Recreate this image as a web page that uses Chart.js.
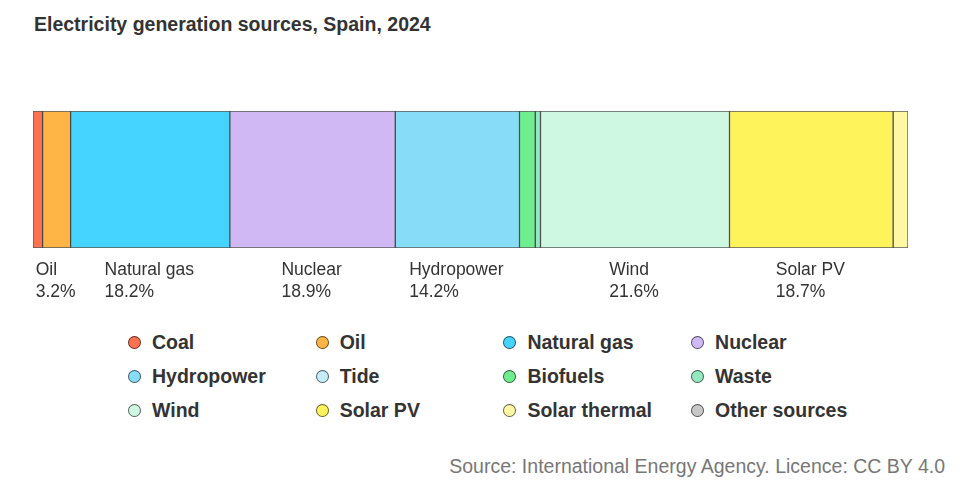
<!DOCTYPE html>
<html>
<head>
<meta charset="utf-8">
<script src="https://cdn.jsdelivr.net/npm/chart.js@4.4.1/dist/chart.umd.min.js"></script>
<style>
  body { margin: 0; background: #fff; font-family: "Liberation Sans", Arial, sans-serif; }
  #page { position: relative; width: 979px; height: 489px; overflow: hidden; }
  #title { position: absolute; left: 34px; top: 13px; line-height: 22px; font-size: 19.5px; font-weight: bold; color: #333; }
  #wrap { position: absolute; left: 0; top: 0; width: 979px; height: 310px; }
  #legend { position: absolute; left: 128px; top: 330px; display: grid; grid-template-columns: repeat(4, 187.7px); row-gap: 10px; }
  .item { display: flex; align-items: center; height: 24px; font-size: 19.5px; font-weight: bold; color: #333; white-space: nowrap; }
  .dot { width: 11px; height: 11px; border-radius: 50%; border: 1px solid rgba(0,0,0,0.6); margin-right: 11px; flex: none; }
  #source { position: absolute; right: 34px; top: 455px; line-height: 22px; font-size: 19.5px; color: #777; }
</style>
</head>
<body>
<div id="page">
  <div id="title">Electricity generation sources, Spain, 2024</div>
  <div id="wrap"><canvas id="genChart"></canvas></div>
  <div id="legend"></div>
  <div id="source">Source: International Energy Agency. Licence: CC BY 4.0</div>
</div>
<script>
var sources = ["Coal", "Oil", "Natural gas", "Nuclear", "Hydropower", "Tide",
  "Biofuels", "Waste", "Wind", "Solar PV", "Solar thermal", "Other sources"];
var shares = [1.1, 3.2, 18.2, 18.9, 14.2, 0, 1.8, 0.6, 21.6, 18.7, 1.7, 0];
var colors = ["#fd7050", "#ffb545", "#45d4ff", "#d0b8f4", "#87ddf8", "#c4ecfa",
  "#6fee90", "#94e8c0", "#cff8e3", "#fff35c", "#fff7a3", "#c8c8c8"];

// legend
var legend = document.getElementById("legend");
sources.forEach(function (name, i) {
  var item = document.createElement("div");
  item.className = "item";
  item.innerHTML = '<span class="dot" style="background:' + colors[i] + '"></span>' + name;
  legend.appendChild(item);
});

// name + percentage under the wider segments
var segmentLabels = {
  id: "segmentLabels",
  afterDatasetsDraw: function (chart) {
    var ctx = chart.ctx;
    ctx.save();
    ctx.font = '17.5px "Liberation Sans", Arial, sans-serif';
    ctx.fillStyle = "#333";
    ctx.textBaseline = "middle";
    chart.data.datasets.forEach(function (ds, i) {
      var v = ds.data[0];
      if (v < 3) return;
      var bar = chart.getDatasetMeta(i).data[0];
      var mid = (bar.x + bar.base) / 2;
      var l1 = ds.label, l2 = v.toFixed(1) + "%";
      var w = Math.max(ctx.measureText(l1).width, ctx.measureText(l2).width);
      ctx.fillText(l1, mid - w / 2 - 1, chart.chartArea.bottom + 22);
      ctx.fillText(l2, mid - w / 2 - 1, chart.chartArea.bottom + 44);
    });
    ctx.restore();
  }
};

var genChart = new Chart(document.getElementById("genChart").getContext("2d"), {
  type: "bar",
  data: {
    labels: ["Spain"],
    datasets: sources.map(function (name, i) {
      return {
        label: name,
        data: [shares[i]],
        backgroundColor: colors[i],
        borderColor: "rgba(0, 0, 0, 0.65)",
        borderWidth: 1,
        borderSkipped: false,
        barPercentage: 1,
        categoryPercentage: 1
      };
    })
  },
  options: {
    indexAxis: "y",
    responsive: true,
    maintainAspectRatio: false,
    animation: false,
    layout: { padding: { left: 33, right: 71, top: 111, bottom: 62 } },
    scales: {
      x: { stacked: true, min: 0, max: 100, display: false },
      y: { stacked: true, display: false }
    },
    plugins: {
      legend: { display: false },
      title: { display: false },
      tooltip: { enabled: false }
    }
  },
  plugins: [segmentLabels]
});
</script>
</body>
</html>
